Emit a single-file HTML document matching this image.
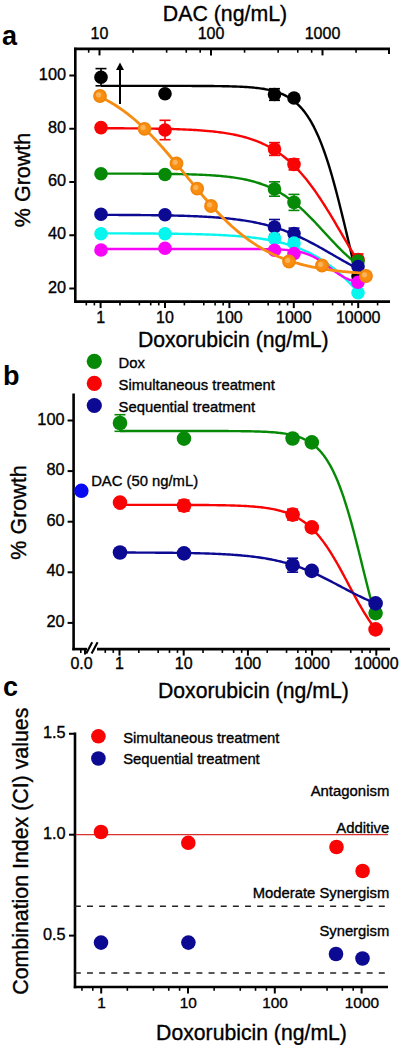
<!DOCTYPE html>
<html><head><meta charset="utf-8"><style>
html,body{margin:0;padding:0;background:#fff;}
svg{display:block;}
text{font-family:"Liberation Sans", sans-serif;fill:#000;stroke:#000;stroke-width:0.35px;}
</style></head><body>
<svg width="400" height="1045" viewBox="0 0 400 1045">
<rect width="400" height="1045" fill="#fff"/>
<line x1="75.30" y1="47.70" x2="75.30" y2="302.80" stroke="#000" stroke-width="2.6" />
<line x1="74.10" y1="48.90" x2="390.00" y2="48.90" stroke="#000" stroke-width="2.6" />
<line x1="74.10" y1="301.60" x2="390.00" y2="301.60" stroke="#000" stroke-width="2.6" />
<line x1="389.00" y1="48.90" x2="389.00" y2="53.90" stroke="#000" stroke-width="2" />
<line x1="69.30" y1="288.50" x2="75.30" y2="288.50" stroke="#000" stroke-width="2" />
<text x="66.00" y="292.60" font-size="16.3" text-anchor="end" font-weight="normal" >20</text>
<line x1="69.30" y1="235.25" x2="75.30" y2="235.25" stroke="#000" stroke-width="2" />
<text x="66.00" y="239.35" font-size="16.3" text-anchor="end" font-weight="normal" >40</text>
<line x1="69.30" y1="182.00" x2="75.30" y2="182.00" stroke="#000" stroke-width="2" />
<text x="66.00" y="186.10" font-size="16.3" text-anchor="end" font-weight="normal" >60</text>
<line x1="69.30" y1="128.75" x2="75.30" y2="128.75" stroke="#000" stroke-width="2" />
<text x="66.00" y="132.85" font-size="16.3" text-anchor="end" font-weight="normal" >80</text>
<line x1="69.30" y1="75.50" x2="75.30" y2="75.50" stroke="#000" stroke-width="2" />
<text x="66.00" y="79.60" font-size="16.3" text-anchor="end" font-weight="normal" >100</text>
<line x1="86.31" y1="301.60" x2="86.31" y2="305.40" stroke="#000" stroke-width="1.6" />
<line x1="94.36" y1="301.60" x2="94.36" y2="305.40" stroke="#000" stroke-width="1.6" />
<line x1="100.60" y1="301.60" x2="100.60" y2="308.10" stroke="#000" stroke-width="2" />
<line x1="119.99" y1="301.60" x2="119.99" y2="305.40" stroke="#000" stroke-width="1.6" />
<line x1="139.37" y1="301.60" x2="139.37" y2="305.40" stroke="#000" stroke-width="1.6" />
<line x1="150.71" y1="301.60" x2="150.71" y2="305.40" stroke="#000" stroke-width="1.6" />
<line x1="158.76" y1="301.60" x2="158.76" y2="305.40" stroke="#000" stroke-width="1.6" />
<line x1="165.00" y1="301.60" x2="165.00" y2="308.10" stroke="#000" stroke-width="2" />
<line x1="184.39" y1="301.60" x2="184.39" y2="305.40" stroke="#000" stroke-width="1.6" />
<line x1="203.77" y1="301.60" x2="203.77" y2="305.40" stroke="#000" stroke-width="1.6" />
<line x1="215.11" y1="301.60" x2="215.11" y2="305.40" stroke="#000" stroke-width="1.6" />
<line x1="223.16" y1="301.60" x2="223.16" y2="305.40" stroke="#000" stroke-width="1.6" />
<line x1="229.40" y1="301.60" x2="229.40" y2="308.10" stroke="#000" stroke-width="2" />
<line x1="248.79" y1="301.60" x2="248.79" y2="305.40" stroke="#000" stroke-width="1.6" />
<line x1="268.17" y1="301.60" x2="268.17" y2="305.40" stroke="#000" stroke-width="1.6" />
<line x1="279.51" y1="301.60" x2="279.51" y2="305.40" stroke="#000" stroke-width="1.6" />
<line x1="287.56" y1="301.60" x2="287.56" y2="305.40" stroke="#000" stroke-width="1.6" />
<line x1="293.80" y1="301.60" x2="293.80" y2="308.10" stroke="#000" stroke-width="2" />
<line x1="313.19" y1="301.60" x2="313.19" y2="305.40" stroke="#000" stroke-width="1.6" />
<line x1="332.57" y1="301.60" x2="332.57" y2="305.40" stroke="#000" stroke-width="1.6" />
<line x1="343.91" y1="301.60" x2="343.91" y2="305.40" stroke="#000" stroke-width="1.6" />
<line x1="351.96" y1="301.60" x2="351.96" y2="305.40" stroke="#000" stroke-width="1.6" />
<line x1="358.20" y1="301.60" x2="358.20" y2="308.10" stroke="#000" stroke-width="2" />
<line x1="377.59" y1="301.60" x2="377.59" y2="305.40" stroke="#000" stroke-width="1.6" />
<text x="100.60" y="322.80" font-size="16" text-anchor="middle" font-weight="normal" >1</text>
<text x="165.00" y="322.80" font-size="16" text-anchor="middle" font-weight="normal" >10</text>
<text x="229.40" y="322.80" font-size="16" text-anchor="middle" font-weight="normal" >100</text>
<text x="293.80" y="322.80" font-size="16" text-anchor="middle" font-weight="normal" >1000</text>
<text x="358.20" y="322.80" font-size="16" text-anchor="middle" font-weight="normal" >10000</text>
<line x1="88.69" y1="48.90" x2="88.69" y2="52.70" stroke="#000" stroke-width="1.6" />
<line x1="99.50" y1="48.90" x2="99.50" y2="55.40" stroke="#000" stroke-width="2" />
<line x1="133.06" y1="48.90" x2="133.06" y2="52.70" stroke="#000" stroke-width="1.6" />
<line x1="166.63" y1="48.90" x2="166.63" y2="52.70" stroke="#000" stroke-width="1.6" />
<line x1="186.26" y1="48.90" x2="186.26" y2="52.70" stroke="#000" stroke-width="1.6" />
<line x1="200.19" y1="48.90" x2="200.19" y2="52.70" stroke="#000" stroke-width="1.6" />
<line x1="211.00" y1="48.90" x2="211.00" y2="55.40" stroke="#000" stroke-width="2" />
<line x1="244.56" y1="48.90" x2="244.56" y2="52.70" stroke="#000" stroke-width="1.6" />
<line x1="278.13" y1="48.90" x2="278.13" y2="52.70" stroke="#000" stroke-width="1.6" />
<line x1="297.76" y1="48.90" x2="297.76" y2="52.70" stroke="#000" stroke-width="1.6" />
<line x1="311.69" y1="48.90" x2="311.69" y2="52.70" stroke="#000" stroke-width="1.6" />
<line x1="322.50" y1="48.90" x2="322.50" y2="55.40" stroke="#000" stroke-width="2" />
<line x1="356.06" y1="48.90" x2="356.06" y2="52.70" stroke="#000" stroke-width="1.6" />
<text x="99.50" y="38.80" font-size="16" text-anchor="middle" font-weight="normal" >10</text>
<text x="211.00" y="38.80" font-size="16" text-anchor="middle" font-weight="normal" >100</text>
<text x="322.50" y="38.80" font-size="16" text-anchor="middle" font-weight="normal" >1000</text>
<text x="225.00" y="21.40" font-size="21.3" text-anchor="middle" font-weight="normal" >DAC (ng/mL)</text>
<text x="233.30" y="346.90" font-size="21.2" text-anchor="middle" font-weight="normal" >Doxorubicin (ng/mL)</text>
<text x="0.00" y="0.00" font-size="21.5" text-anchor="middle" font-weight="normal" transform="translate(30.3,180) rotate(-90)">% Growth</text>
<text x="2.00" y="45.40" font-size="27" text-anchor="start" font-weight="bold"  style="stroke:none">a</text>
<path d="M101.00,85.87 L102.50,85.87 L104.00,85.87 L105.50,85.87 L107.00,85.87 L108.50,85.87 L110.00,85.87 L111.50,85.87 L113.00,85.87 L114.50,85.87 L116.00,85.87 L117.50,85.87 L119.00,85.87 L120.50,85.87 L122.00,85.87 L123.50,85.87 L125.00,85.87 L126.50,85.87 L128.00,85.87 L129.50,85.87 L131.00,85.87 L132.50,85.87 L134.00,85.87 L135.50,85.87 L137.00,85.87 L138.50,85.87 L140.00,85.87 L141.50,85.87 L143.00,85.87 L144.50,85.87 L146.00,85.87 L147.50,85.87 L149.00,85.87 L150.50,85.87 L152.00,85.87 L153.50,85.87 L155.00,85.87 L156.50,85.87 L158.00,85.88 L159.50,85.88 L161.00,85.88 L162.50,85.88 L164.00,85.88 L165.50,85.88 L167.00,85.88 L168.50,85.88 L170.00,85.88 L171.50,85.89 L173.00,85.89 L174.50,85.89 L176.00,85.89 L177.50,85.89 L179.00,85.90 L180.50,85.90 L182.00,85.90 L183.50,85.90 L185.00,85.91 L186.50,85.91 L188.00,85.92 L189.50,85.92 L191.00,85.92 L192.50,85.93 L194.00,85.93 L195.50,85.94 L197.00,85.95 L198.50,85.95 L200.00,85.96 L201.50,85.97 L203.00,85.98 L204.50,85.99 L206.00,86.00 L207.50,86.01 L209.00,86.02 L210.50,86.04 L212.00,86.05 L213.50,86.07 L215.00,86.08 L216.50,86.10 L218.00,86.12 L219.50,86.14 L221.00,86.17 L222.50,86.19 L224.00,86.22 L225.50,86.25 L227.00,86.28 L228.50,86.32 L230.00,86.36 L231.50,86.40 L233.00,86.44 L234.50,86.49 L236.00,86.54 L237.50,86.60 L239.00,86.66 L240.50,86.73 L242.00,86.81 L243.50,86.89 L245.00,86.97 L246.50,87.07 L248.00,87.17 L249.50,87.28 L251.00,87.40 L252.50,87.53 L254.00,87.67 L255.50,87.82 L257.00,87.99 L258.50,88.17 L260.00,88.36 L261.50,88.57 L263.00,88.80 L264.50,89.04 L266.00,89.31 L267.50,89.60 L269.00,89.92 L270.50,90.26 L272.00,90.63 L273.50,91.02 L275.00,91.45 L276.50,91.92 L278.00,92.43 L279.50,92.97 L281.00,93.56 L282.50,94.20 L284.00,94.89 L285.50,95.63 L287.00,96.44 L288.50,97.30 L290.00,98.24 L291.50,99.25 L293.00,100.33 L294.50,101.50 L296.00,102.76 L297.50,104.12 L299.00,105.57 L300.50,107.14 L302.00,108.81 L303.50,110.61 L305.00,112.54 L306.50,114.60 L308.00,116.80 L309.50,119.16 L311.00,121.66 L312.50,124.33 L314.00,127.17 L315.50,130.19 L317.00,133.39 L318.50,136.77 L320.00,140.34 L321.50,144.11 L323.00,148.08 L324.50,152.24 L326.00,156.61 L327.50,161.17 L329.00,165.93 L330.50,170.88 L332.00,176.01 L333.50,181.33 L335.00,186.81 L336.50,192.46 L338.00,198.25 L339.50,204.17 L341.00,210.21 L342.50,216.34 L344.00,222.56 L345.50,228.84 L347.00,235.15 L348.50,241.49 L350.00,247.83 L351.50,254.14 L353.00,260.41 L354.50,266.61 L356.00,272.74 L357.50,278.76 L358.00,280.74" fill="none" stroke="#000" stroke-width="2.4" stroke-linejoin="round"/>
<path d="M101.00,128.21 L102.50,128.22 L104.00,128.22 L105.50,128.23 L107.00,128.23 L108.50,128.24 L110.00,128.25 L111.50,128.25 L113.00,128.26 L114.50,128.27 L116.00,128.27 L117.50,128.28 L119.00,128.29 L120.50,128.30 L122.00,128.31 L123.50,128.32 L125.00,128.33 L126.50,128.34 L128.00,128.35 L129.50,128.36 L131.00,128.37 L132.50,128.38 L134.00,128.39 L135.50,128.41 L137.00,128.42 L138.50,128.44 L140.00,128.45 L141.50,128.47 L143.00,128.49 L144.50,128.50 L146.00,128.52 L147.50,128.54 L149.00,128.56 L150.50,128.59 L152.00,128.61 L153.50,128.63 L155.00,128.66 L156.50,128.68 L158.00,128.71 L159.50,128.74 L161.00,128.77 L162.50,128.80 L164.00,128.84 L165.50,128.87 L167.00,128.91 L168.50,128.95 L170.00,128.99 L171.50,129.03 L173.00,129.07 L174.50,129.12 L176.00,129.17 L177.50,129.22 L179.00,129.28 L180.50,129.33 L182.00,129.39 L183.50,129.45 L185.00,129.52 L186.50,129.59 L188.00,129.66 L189.50,129.73 L191.00,129.81 L192.50,129.89 L194.00,129.98 L195.50,130.07 L197.00,130.16 L198.50,130.26 L200.00,130.37 L201.50,130.48 L203.00,130.59 L204.50,130.71 L206.00,130.83 L207.50,130.97 L209.00,131.10 L210.50,131.25 L212.00,131.40 L213.50,131.56 L215.00,131.72 L216.50,131.90 L218.00,132.08 L219.50,132.27 L221.00,132.47 L222.50,132.67 L224.00,132.89 L225.50,133.12 L227.00,133.36 L228.50,133.61 L230.00,133.87 L231.50,134.15 L233.00,134.43 L234.50,134.73 L236.00,135.04 L237.50,135.37 L239.00,135.72 L240.50,136.07 L242.00,136.45 L243.50,136.84 L245.00,137.25 L246.50,137.67 L248.00,138.12 L249.50,138.59 L251.00,139.07 L252.50,139.58 L254.00,140.11 L255.50,140.66 L257.00,141.24 L258.50,141.84 L260.00,142.47 L261.50,143.12 L263.00,143.80 L264.50,144.51 L266.00,145.25 L267.50,146.02 L269.00,146.82 L270.50,147.66 L272.00,148.52 L273.50,149.42 L275.00,150.36 L276.50,151.33 L278.00,152.34 L279.50,153.38 L281.00,154.47 L282.50,155.59 L284.00,156.76 L285.50,157.97 L287.00,159.22 L288.50,160.51 L290.00,161.85 L291.50,163.23 L293.00,164.66 L294.50,166.14 L296.00,167.66 L297.50,169.22 L299.00,170.84 L300.50,172.50 L302.00,174.21 L303.50,175.96 L305.00,177.76 L306.50,179.62 L308.00,181.51 L309.50,183.46 L311.00,185.44 L312.50,187.48 L314.00,189.56 L315.50,191.68 L317.00,193.84 L318.50,196.05 L320.00,198.29 L321.50,200.57 L323.00,202.89 L324.50,205.24 L326.00,207.63 L327.50,210.04 L329.00,212.48 L330.50,214.95 L332.00,217.44 L333.50,219.95 L335.00,222.48 L336.50,225.03 L338.00,227.58 L339.50,230.15 L341.00,232.72 L342.50,235.30 L344.00,237.88 L345.50,240.45 L347.00,243.02 L348.50,245.59 L350.00,248.14 L351.50,250.68 L353.00,253.20 L354.50,255.70 L356.00,258.18 L357.50,260.64 L358.00,261.45" fill="none" stroke="#f80404" stroke-width="2.4" stroke-linejoin="round"/>
<path d="M101.00,173.57 L102.50,173.57 L104.00,173.57 L105.50,173.57 L107.00,173.58 L108.50,173.58 L110.00,173.58 L111.50,173.58 L113.00,173.59 L114.50,173.59 L116.00,173.59 L117.50,173.59 L119.00,173.60 L120.50,173.60 L122.00,173.60 L123.50,173.61 L125.00,173.61 L126.50,173.62 L128.00,173.62 L129.50,173.63 L131.00,173.63 L132.50,173.64 L134.00,173.64 L135.50,173.65 L137.00,173.65 L138.50,173.66 L140.00,173.67 L141.50,173.67 L143.00,173.68 L144.50,173.69 L146.00,173.70 L147.50,173.71 L149.00,173.72 L150.50,173.73 L152.00,173.74 L153.50,173.75 L155.00,173.76 L156.50,173.78 L158.00,173.79 L159.50,173.80 L161.00,173.82 L162.50,173.83 L164.00,173.85 L165.50,173.87 L167.00,173.89 L168.50,173.91 L170.00,173.93 L171.50,173.95 L173.00,173.97 L174.50,174.00 L176.00,174.02 L177.50,174.05 L179.00,174.08 L180.50,174.11 L182.00,174.14 L183.50,174.18 L185.00,174.21 L186.50,174.25 L188.00,174.29 L189.50,174.34 L191.00,174.38 L192.50,174.43 L194.00,174.48 L195.50,174.53 L197.00,174.59 L198.50,174.65 L200.00,174.71 L201.50,174.78 L203.00,174.85 L204.50,174.92 L206.00,175.00 L207.50,175.08 L209.00,175.17 L210.50,175.26 L212.00,175.35 L213.50,175.46 L215.00,175.56 L216.50,175.68 L218.00,175.80 L219.50,175.92 L221.00,176.06 L222.50,176.20 L224.00,176.34 L225.50,176.50 L227.00,176.66 L228.50,176.84 L230.00,177.02 L231.50,177.21 L233.00,177.41 L234.50,177.63 L236.00,177.85 L237.50,178.09 L239.00,178.34 L240.50,178.60 L242.00,178.88 L243.50,179.17 L245.00,179.47 L246.50,179.79 L248.00,180.13 L249.50,180.48 L251.00,180.85 L252.50,181.24 L254.00,181.65 L255.50,182.08 L257.00,182.53 L258.50,183.00 L260.00,183.50 L261.50,184.01 L263.00,184.56 L264.50,185.12 L266.00,185.71 L267.50,186.33 L269.00,186.98 L270.50,187.65 L272.00,188.36 L273.50,189.09 L275.00,189.86 L276.50,190.65 L278.00,191.48 L279.50,192.34 L281.00,193.23 L282.50,194.16 L284.00,195.12 L285.50,196.11 L287.00,197.14 L288.50,198.20 L290.00,199.30 L291.50,200.44 L293.00,201.60 L294.50,202.81 L296.00,204.04 L297.50,205.31 L299.00,206.62 L300.50,207.95 L302.00,209.32 L303.50,210.71 L305.00,212.14 L306.50,213.59 L308.00,215.06 L309.50,216.57 L311.00,218.09 L312.50,219.63 L314.00,221.20 L315.50,222.78 L317.00,224.37 L318.50,225.98 L320.00,227.59 L321.50,229.22 L323.00,230.84 L324.50,232.47 L326.00,234.10 L327.50,235.73 L329.00,237.35 L330.50,238.97 L332.00,240.57 L333.50,242.16 L335.00,243.74 L336.50,245.30 L338.00,246.84 L339.50,248.36 L341.00,249.86 L342.50,251.33 L344.00,252.78 L345.50,254.19 L347.00,255.58 L348.50,256.94 L350.00,258.27 L351.50,259.57 L353.00,260.83 L354.50,262.06 L356.00,263.26 L357.50,264.42 L358.00,264.80" fill="none" stroke="#068906" stroke-width="2.4" stroke-linejoin="round"/>
<path d="M101.00,214.86 L102.50,214.87 L104.00,214.87 L105.50,214.87 L107.00,214.88 L108.50,214.88 L110.00,214.89 L111.50,214.90 L113.00,214.90 L114.50,214.91 L116.00,214.91 L117.50,214.92 L119.00,214.93 L120.50,214.94 L122.00,214.94 L123.50,214.95 L125.00,214.96 L126.50,214.97 L128.00,214.98 L129.50,214.99 L131.00,215.00 L132.50,215.01 L134.00,215.02 L135.50,215.03 L137.00,215.04 L138.50,215.05 L140.00,215.07 L141.50,215.08 L143.00,215.09 L144.50,215.11 L146.00,215.12 L147.50,215.14 L149.00,215.16 L150.50,215.17 L152.00,215.19 L153.50,215.21 L155.00,215.23 L156.50,215.25 L158.00,215.27 L159.50,215.30 L161.00,215.32 L162.50,215.34 L164.00,215.37 L165.50,215.40 L167.00,215.42 L168.50,215.45 L170.00,215.48 L171.50,215.52 L173.00,215.55 L174.50,215.58 L176.00,215.62 L177.50,215.66 L179.00,215.70 L180.50,215.74 L182.00,215.78 L183.50,215.82 L185.00,215.87 L186.50,215.92 L188.00,215.97 L189.50,216.02 L191.00,216.08 L192.50,216.13 L194.00,216.19 L195.50,216.25 L197.00,216.32 L198.50,216.39 L200.00,216.46 L201.50,216.53 L203.00,216.61 L204.50,216.69 L206.00,216.77 L207.50,216.86 L209.00,216.95 L210.50,217.04 L212.00,217.14 L213.50,217.24 L215.00,217.35 L216.50,217.46 L218.00,217.57 L219.50,217.69 L221.00,217.82 L222.50,217.95 L224.00,218.08 L225.50,218.22 L227.00,218.37 L228.50,218.52 L230.00,218.68 L231.50,218.84 L233.00,219.01 L234.50,219.19 L236.00,219.38 L237.50,219.57 L239.00,219.77 L240.50,219.97 L242.00,220.19 L243.50,220.41 L245.00,220.64 L246.50,220.88 L248.00,221.13 L249.50,221.39 L251.00,221.66 L252.50,221.94 L254.00,222.22 L255.50,222.52 L257.00,222.83 L258.50,223.15 L260.00,223.48 L261.50,223.82 L263.00,224.18 L264.50,224.54 L266.00,224.92 L267.50,225.31 L269.00,225.71 L270.50,226.13 L272.00,226.56 L273.50,227.00 L275.00,227.46 L276.50,227.93 L278.00,228.41 L279.50,228.91 L281.00,229.42 L282.50,229.94 L284.00,230.48 L285.50,231.04 L287.00,231.61 L288.50,232.19 L290.00,232.79 L291.50,233.40 L293.00,234.02 L294.50,234.66 L296.00,235.32 L297.50,235.99 L299.00,236.67 L300.50,237.37 L302.00,238.07 L303.50,238.80 L305.00,239.53 L306.50,240.28 L308.00,241.04 L309.50,241.81 L311.00,242.59 L312.50,243.38 L314.00,244.18 L315.50,244.99 L317.00,245.81 L318.50,246.64 L320.00,247.47 L321.50,248.31 L323.00,249.16 L324.50,250.01 L326.00,250.87 L327.50,251.73 L329.00,252.59 L330.50,253.45 L332.00,254.32 L333.50,255.19 L335.00,256.05 L336.50,256.92 L338.00,257.78 L339.50,258.64 L341.00,259.50 L342.50,260.35 L344.00,261.20 L345.50,262.04 L347.00,262.88 L348.50,263.71 L350.00,264.53 L351.50,265.34 L353.00,266.14 L354.50,266.93 L356.00,267.72 L357.50,268.49 L358.00,268.74" fill="none" stroke="#0c0a92" stroke-width="2.4" stroke-linejoin="round"/>
<path d="M101.00,233.35 L102.50,233.35 L104.00,233.35 L105.50,233.36 L107.00,233.36 L108.50,233.36 L110.00,233.36 L111.50,233.37 L113.00,233.37 L114.50,233.38 L116.00,233.38 L117.50,233.38 L119.00,233.39 L120.50,233.39 L122.00,233.40 L123.50,233.40 L125.00,233.41 L126.50,233.41 L128.00,233.42 L129.50,233.42 L131.00,233.43 L132.50,233.43 L134.00,233.44 L135.50,233.45 L137.00,233.45 L138.50,233.46 L140.00,233.47 L141.50,233.48 L143.00,233.48 L144.50,233.49 L146.00,233.50 L147.50,233.51 L149.00,233.52 L150.50,233.53 L152.00,233.54 L153.50,233.55 L155.00,233.56 L156.50,233.58 L158.00,233.59 L159.50,233.60 L161.00,233.62 L162.50,233.63 L164.00,233.64 L165.50,233.66 L167.00,233.68 L168.50,233.69 L170.00,233.71 L171.50,233.73 L173.00,233.75 L174.50,233.77 L176.00,233.79 L177.50,233.81 L179.00,233.83 L180.50,233.86 L182.00,233.88 L183.50,233.91 L185.00,233.93 L186.50,233.96 L188.00,233.99 L189.50,234.02 L191.00,234.05 L192.50,234.09 L194.00,234.12 L195.50,234.16 L197.00,234.19 L198.50,234.23 L200.00,234.27 L201.50,234.32 L203.00,234.36 L204.50,234.41 L206.00,234.45 L207.50,234.50 L209.00,234.56 L210.50,234.61 L212.00,234.67 L213.50,234.73 L215.00,234.79 L216.50,234.85 L218.00,234.92 L219.50,234.99 L221.00,235.07 L222.50,235.14 L224.00,235.22 L225.50,235.30 L227.00,235.39 L228.50,235.48 L230.00,235.58 L231.50,235.67 L233.00,235.78 L234.50,235.88 L236.00,235.99 L237.50,236.11 L239.00,236.23 L240.50,236.35 L242.00,236.49 L243.50,236.62 L245.00,236.76 L246.50,236.91 L248.00,237.06 L249.50,237.23 L251.00,237.39 L252.50,237.57 L254.00,237.75 L255.50,237.94 L257.00,238.13 L258.50,238.34 L260.00,238.55 L261.50,238.77 L263.00,239.00 L264.50,239.24 L266.00,239.49 L267.50,239.75 L269.00,240.02 L270.50,240.30 L272.00,240.59 L273.50,240.90 L275.00,241.21 L276.50,241.54 L278.00,241.88 L279.50,242.24 L281.00,242.60 L282.50,242.99 L284.00,243.38 L285.50,243.80 L287.00,244.23 L288.50,244.67 L290.00,245.13 L291.50,245.61 L293.00,246.11 L294.50,246.62 L296.00,247.16 L297.50,247.71 L299.00,248.28 L300.50,248.88 L302.00,249.49 L303.50,250.13 L305.00,250.79 L306.50,251.48 L308.00,252.18 L309.50,252.91 L311.00,253.67 L312.50,254.45 L314.00,255.26 L315.50,256.09 L317.00,256.95 L318.50,257.84 L320.00,258.75 L321.50,259.69 L323.00,260.67 L324.50,261.67 L326.00,262.70 L327.50,263.76 L329.00,264.85 L330.50,265.97 L332.00,267.12 L333.50,268.30 L335.00,269.52 L336.50,270.76 L338.00,272.04 L339.50,273.35 L341.00,274.69 L342.50,276.06 L344.00,277.46 L345.50,278.89 L347.00,280.35 L348.50,281.85 L350.00,283.37 L351.50,284.92 L353.00,286.50 L354.50,288.11 L356.00,289.74 L357.50,291.40 L358.00,291.96" fill="none" stroke="#04f6ee" stroke-width="2.4" stroke-linejoin="round"/>
<path d="M101.00,248.93 L102.50,248.93 L104.00,248.93 L105.50,248.93 L107.00,248.93 L108.50,248.93 L110.00,248.93 L111.50,248.93 L113.00,248.93 L114.50,248.93 L116.00,248.93 L117.50,248.93 L119.00,248.93 L120.50,248.93 L122.00,248.93 L123.50,248.93 L125.00,248.93 L126.50,248.93 L128.00,248.93 L129.50,248.93 L131.00,248.93 L132.50,248.93 L134.00,248.93 L135.50,248.93 L137.00,248.93 L138.50,248.93 L140.00,248.93 L141.50,248.93 L143.00,248.93 L144.50,248.93 L146.00,248.93 L147.50,248.93 L149.00,248.93 L150.50,248.93 L152.00,248.93 L153.50,248.93 L155.00,248.93 L156.50,248.93 L158.00,248.93 L159.50,248.93 L161.00,248.93 L162.50,248.93 L164.00,248.93 L165.50,248.93 L167.00,248.93 L168.50,248.93 L170.00,248.93 L171.50,248.93 L173.00,248.93 L174.50,248.93 L176.00,248.93 L177.50,248.93 L179.00,248.93 L180.50,248.93 L182.00,248.93 L183.50,248.93 L185.00,248.93 L186.50,248.93 L188.00,248.93 L189.50,248.93 L191.00,248.93 L192.50,248.93 L194.00,248.93 L195.50,248.93 L197.00,248.93 L198.50,248.93 L200.00,248.93 L201.50,248.93 L203.00,248.93 L204.50,248.93 L206.00,248.93 L207.50,248.93 L209.00,248.93 L210.50,248.93 L212.00,248.93 L213.50,248.93 L215.00,248.93 L216.50,248.93 L218.00,248.93 L219.50,248.94 L221.00,248.94 L222.50,248.94 L224.00,248.94 L225.50,248.94 L227.00,248.94 L228.50,248.94 L230.00,248.94 L231.50,248.94 L233.00,248.94 L234.50,248.95 L236.00,248.95 L237.50,248.95 L239.00,248.95 L240.50,248.95 L242.00,248.96 L243.50,248.96 L245.00,248.96 L246.50,248.97 L248.00,248.97 L249.50,248.98 L251.00,248.99 L252.50,248.99 L254.00,249.00 L255.50,249.01 L257.00,249.02 L258.50,249.03 L260.00,249.05 L261.50,249.06 L263.00,249.08 L264.50,249.10 L266.00,249.12 L267.50,249.15 L269.00,249.18 L270.50,249.21 L272.00,249.25 L273.50,249.29 L275.00,249.33 L276.50,249.39 L278.00,249.45 L279.50,249.51 L281.00,249.59 L282.50,249.67 L284.00,249.77 L285.50,249.88 L287.00,250.00 L288.50,250.14 L290.00,250.29 L291.50,250.47 L293.00,250.66 L294.50,250.88 L296.00,251.12 L297.50,251.39 L299.00,251.69 L300.50,252.03 L302.00,252.40 L303.50,252.81 L305.00,253.27 L306.50,253.77 L308.00,254.31 L309.50,254.91 L311.00,255.56 L312.50,256.26 L314.00,257.02 L315.50,257.83 L317.00,258.70 L318.50,259.62 L320.00,260.58 L321.50,261.59 L323.00,262.64 L324.50,263.72 L326.00,264.83 L327.50,265.96 L329.00,267.09 L330.50,268.23 L332.00,269.35 L333.50,270.46 L335.00,271.55 L336.50,272.60 L338.00,273.62 L339.50,274.59 L341.00,275.51 L342.50,276.38 L344.00,277.20 L345.50,277.97 L347.00,278.68 L348.50,279.33 L350.00,279.94 L351.50,280.49 L353.00,280.99 L354.50,281.45 L356.00,281.87 L357.50,282.25 L358.00,282.36" fill="none" stroke="#f804f8" stroke-width="2.4" stroke-linejoin="round"/>
<line x1="101.00" y1="68.60" x2="101.00" y2="85.80" stroke="#000" stroke-width="1.6" />
<line x1="95.50" y1="68.60" x2="106.50" y2="68.60" stroke="#000" stroke-width="1.6" />
<line x1="95.50" y1="85.80" x2="106.50" y2="85.80" stroke="#000" stroke-width="1.6" />
<line x1="274.50" y1="88.70" x2="274.50" y2="100.30" stroke="#000" stroke-width="1.6" />
<line x1="269.00" y1="88.70" x2="280.00" y2="88.70" stroke="#000" stroke-width="1.6" />
<line x1="269.00" y1="100.30" x2="280.00" y2="100.30" stroke="#000" stroke-width="1.6" />
<line x1="165.00" y1="120.30" x2="165.00" y2="139.70" stroke="#f80404" stroke-width="1.6" />
<line x1="159.50" y1="120.30" x2="170.50" y2="120.30" stroke="#f80404" stroke-width="1.6" />
<line x1="159.50" y1="139.70" x2="170.50" y2="139.70" stroke="#f80404" stroke-width="1.6" />
<line x1="274.50" y1="142.60" x2="274.50" y2="155.40" stroke="#f80404" stroke-width="1.6" />
<line x1="269.00" y1="142.60" x2="280.00" y2="142.60" stroke="#f80404" stroke-width="1.6" />
<line x1="269.00" y1="155.40" x2="280.00" y2="155.40" stroke="#f80404" stroke-width="1.6" />
<line x1="294.00" y1="158.90" x2="294.00" y2="169.90" stroke="#f80404" stroke-width="1.6" />
<line x1="288.50" y1="158.90" x2="299.50" y2="158.90" stroke="#f80404" stroke-width="1.6" />
<line x1="288.50" y1="169.90" x2="299.50" y2="169.90" stroke="#f80404" stroke-width="1.6" />
<line x1="358.00" y1="254.00" x2="358.00" y2="265.00" stroke="#f80404" stroke-width="1.6" />
<line x1="352.50" y1="254.00" x2="363.50" y2="254.00" stroke="#f80404" stroke-width="1.6" />
<line x1="352.50" y1="265.00" x2="363.50" y2="265.00" stroke="#f80404" stroke-width="1.6" />
<line x1="274.50" y1="181.80" x2="274.50" y2="196.20" stroke="#068906" stroke-width="1.6" />
<line x1="269.00" y1="181.80" x2="280.00" y2="181.80" stroke="#068906" stroke-width="1.6" />
<line x1="269.00" y1="196.20" x2="280.00" y2="196.20" stroke="#068906" stroke-width="1.6" />
<line x1="294.00" y1="194.40" x2="294.00" y2="210.40" stroke="#068906" stroke-width="1.6" />
<line x1="288.50" y1="194.40" x2="299.50" y2="194.40" stroke="#068906" stroke-width="1.6" />
<line x1="288.50" y1="210.40" x2="299.50" y2="210.40" stroke="#068906" stroke-width="1.6" />
<line x1="274.50" y1="219.50" x2="274.50" y2="234.50" stroke="#0c0a92" stroke-width="1.6" />
<line x1="269.00" y1="219.50" x2="280.00" y2="219.50" stroke="#0c0a92" stroke-width="1.6" />
<line x1="269.00" y1="234.50" x2="280.00" y2="234.50" stroke="#0c0a92" stroke-width="1.6" />
<line x1="294.00" y1="228.10" x2="294.00" y2="239.10" stroke="#0c0a92" stroke-width="1.6" />
<line x1="288.50" y1="228.10" x2="299.50" y2="228.10" stroke="#0c0a92" stroke-width="1.6" />
<line x1="288.50" y1="239.10" x2="299.50" y2="239.10" stroke="#0c0a92" stroke-width="1.6" />
<circle cx="101.00" cy="77.20" r="6.8" fill="#000"/>
<circle cx="165.00" cy="93.80" r="6.8" fill="#000"/>
<circle cx="274.50" cy="94.50" r="6.8" fill="#000"/>
<circle cx="294.00" cy="98.00" r="6.8" fill="#000"/>
<circle cx="358.00" cy="276.00" r="6.8" fill="#000"/>
<circle cx="101.00" cy="127.60" r="6.8" fill="#f80404"/>
<circle cx="165.00" cy="130.00" r="6.8" fill="#f80404"/>
<circle cx="274.50" cy="149.00" r="6.8" fill="#f80404"/>
<circle cx="294.00" cy="164.40" r="6.8" fill="#f80404"/>
<circle cx="358.00" cy="259.50" r="6.8" fill="#f80404"/>
<circle cx="101.00" cy="173.70" r="6.8" fill="#068906"/>
<circle cx="165.00" cy="174.50" r="6.8" fill="#068906"/>
<circle cx="274.50" cy="189.00" r="6.8" fill="#068906"/>
<circle cx="294.00" cy="202.40" r="6.8" fill="#068906"/>
<circle cx="358.00" cy="261.00" r="6.8" fill="#068906"/>
<circle cx="101.00" cy="214.30" r="6.8" fill="#0c0a92"/>
<circle cx="165.00" cy="214.80" r="6.8" fill="#0c0a92"/>
<circle cx="274.50" cy="227.00" r="6.8" fill="#0c0a92"/>
<circle cx="294.00" cy="233.60" r="6.8" fill="#0c0a92"/>
<circle cx="358.00" cy="266.50" r="6.8" fill="#0c0a92"/>
<circle cx="101.00" cy="233.80" r="6.8" fill="#04f6ee"/>
<circle cx="165.00" cy="233.80" r="6.8" fill="#04f6ee"/>
<circle cx="274.50" cy="238.50" r="6.8" fill="#04f6ee"/>
<circle cx="294.00" cy="243.00" r="6.8" fill="#04f6ee"/>
<circle cx="358.00" cy="292.80" r="6.8" fill="#04f6ee"/>
<circle cx="101.00" cy="250.00" r="6.8" fill="#f804f8"/>
<circle cx="165.00" cy="248.30" r="6.8" fill="#f804f8"/>
<circle cx="274.50" cy="250.30" r="6.8" fill="#f804f8"/>
<circle cx="294.00" cy="253.50" r="6.8" fill="#f804f8"/>
<circle cx="358.00" cy="282.30" r="6.8" fill="#f804f8"/>
<path d="M100.00,96.71 L101.50,97.45 L103.00,98.21 L104.50,98.98 L106.00,99.78 L107.50,100.61 L109.00,101.45 L110.50,102.32 L112.00,103.21 L113.50,104.12 L115.00,105.06 L116.50,106.02 L118.00,107.00 L119.50,108.01 L121.00,109.05 L122.50,110.11 L124.00,111.19 L125.50,112.30 L127.00,113.44 L128.50,114.60 L130.00,115.78 L131.50,117.00 L133.00,118.23 L134.50,119.50 L136.00,120.79 L137.50,122.10 L139.00,123.44 L140.50,124.81 L142.00,126.20 L143.50,127.61 L145.00,129.05 L146.50,130.51 L148.00,132.00 L149.50,133.51 L151.00,135.04 L152.50,136.60 L154.00,138.17 L155.50,139.77 L157.00,141.39 L158.50,143.03 L160.00,144.69 L161.50,146.36 L163.00,148.05 L164.50,149.76 L166.00,151.49 L167.50,153.23 L169.00,154.98 L170.50,156.75 L172.00,158.53 L173.50,160.32 L175.00,162.12 L176.50,163.92 L178.00,165.74 L179.50,167.56 L181.00,169.38 L182.50,171.21 L184.00,173.04 L185.50,174.88 L187.00,176.71 L188.50,178.54 L190.00,180.37 L191.50,182.20 L193.00,184.02 L194.50,185.83 L196.00,187.64 L197.50,189.44 L199.00,191.23 L200.50,193.01 L202.00,194.78 L203.50,196.54 L205.00,198.28 L206.50,200.01 L208.00,201.72 L209.50,203.42 L211.00,205.10 L212.50,206.76 L214.00,208.40 L215.50,210.02 L217.00,211.63 L218.50,213.21 L220.00,214.77 L221.50,216.30 L223.00,217.82 L224.50,219.31 L226.00,220.78 L227.50,222.22 L229.00,223.64 L230.50,225.04 L232.00,226.41 L233.50,227.75 L235.00,229.07 L236.50,230.37 L238.00,231.64 L239.50,232.88 L241.00,234.10 L242.50,235.29 L244.00,236.45 L245.50,237.59 L247.00,238.71 L248.50,239.80 L250.00,240.86 L251.50,241.90 L253.00,242.92 L254.50,243.91 L256.00,244.87 L257.50,245.82 L259.00,246.73 L260.50,247.63 L262.00,248.50 L263.50,249.35 L265.00,250.18 L266.50,250.98 L268.00,251.76 L269.50,252.52 L271.00,253.27 L272.50,253.98 L274.00,254.68 L275.50,255.36 L277.00,256.02 L278.50,256.67 L280.00,257.29 L281.50,257.89 L283.00,258.48 L284.50,259.05 L286.00,259.60 L287.50,260.14 L289.00,260.66 L290.50,261.16 L292.00,261.65 L293.50,262.12 L295.00,262.58 L296.50,263.02 L298.00,263.46 L299.50,263.87 L301.00,264.28 L302.50,264.67 L304.00,265.05 L305.50,265.41 L307.00,265.77 L308.50,266.11 L310.00,266.44 L311.50,266.76 L313.00,267.08 L314.50,267.38 L316.00,267.67 L317.50,267.95 L319.00,268.22 L320.50,268.48 L322.00,268.74 L323.50,268.99 L325.00,269.22 L326.50,269.45 L328.00,269.67 L329.50,269.89 L331.00,270.10 L332.50,270.30 L334.00,270.49 L335.50,270.68 L337.00,270.86 L338.50,271.03 L340.00,271.20 L341.50,271.37 L343.00,271.52 L344.50,271.68 L346.00,271.82 L347.50,271.96 L349.00,272.10 L350.50,272.23 L352.00,272.36 L353.50,272.48 L355.00,272.60 L356.50,272.72 L358.00,272.83 L359.50,272.94 L361.00,273.04 L362.50,273.14 L364.00,273.24 L365.50,273.33 L366.00,273.36" fill="none" stroke="#f68d12" stroke-width="2.8" stroke-linejoin="round"/>
<circle cx="100.00" cy="96.00" r="6.0" fill="#f98e10" stroke="#f0860c" stroke-width="1.8"/>
<circle cx="98.60" cy="94.80" r="2.6" fill="#fbbf72" opacity="0.75"/>
<circle cx="144.50" cy="128.80" r="6.0" fill="#f98e10" stroke="#f0860c" stroke-width="1.8"/>
<circle cx="143.10" cy="127.60" r="2.6" fill="#fbbf72" opacity="0.75"/>
<circle cx="176.50" cy="163.50" r="6.0" fill="#f98e10" stroke="#f0860c" stroke-width="1.8"/>
<circle cx="175.10" cy="162.30" r="2.6" fill="#fbbf72" opacity="0.75"/>
<circle cx="197.20" cy="188.70" r="6.0" fill="#f98e10" stroke="#f0860c" stroke-width="1.8"/>
<circle cx="195.80" cy="187.50" r="2.6" fill="#fbbf72" opacity="0.75"/>
<circle cx="211.00" cy="206.00" r="6.0" fill="#f98e10" stroke="#f0860c" stroke-width="1.8"/>
<circle cx="209.60" cy="204.80" r="2.6" fill="#fbbf72" opacity="0.75"/>
<circle cx="289.00" cy="261.50" r="6.0" fill="#f98e10" stroke="#f0860c" stroke-width="1.8"/>
<circle cx="287.60" cy="260.30" r="2.6" fill="#fbbf72" opacity="0.75"/>
<circle cx="322.00" cy="265.50" r="6.0" fill="#f98e10" stroke="#f0860c" stroke-width="1.8"/>
<circle cx="320.60" cy="264.30" r="2.6" fill="#fbbf72" opacity="0.75"/>
<circle cx="366.00" cy="276.00" r="6.0" fill="#f98e10" stroke="#f0860c" stroke-width="1.8"/>
<circle cx="364.60" cy="274.80" r="2.6" fill="#fbbf72" opacity="0.75"/>
<line x1="120.00" y1="68.00" x2="120.00" y2="104.00" stroke="#000" stroke-width="2" />
<path d="M116,70 L120,62.5 L124,70 Z" fill="#000"/>
<line x1="73.60" y1="393.50" x2="73.60" y2="650.30" stroke="#000" stroke-width="2.6" />
<line x1="72.40" y1="649.10" x2="87.00" y2="649.10" stroke="#000" stroke-width="2.6" />
<line x1="97.00" y1="649.10" x2="390.00" y2="649.10" stroke="#000" stroke-width="2.6" />
<line x1="86.20" y1="653.50" x2="92.20" y2="642.30" stroke="#000" stroke-width="2.1" />
<line x1="91.60" y1="653.50" x2="97.60" y2="642.30" stroke="#000" stroke-width="2.1" />
<line x1="67.60" y1="622.90" x2="73.60" y2="622.90" stroke="#000" stroke-width="2" />
<text x="64.50" y="627.00" font-size="16.3" text-anchor="end" font-weight="normal" >20</text>
<line x1="67.60" y1="572.30" x2="73.60" y2="572.30" stroke="#000" stroke-width="2" />
<text x="64.50" y="576.40" font-size="16.3" text-anchor="end" font-weight="normal" >40</text>
<line x1="67.60" y1="521.70" x2="73.60" y2="521.70" stroke="#000" stroke-width="2" />
<text x="64.50" y="525.80" font-size="16.3" text-anchor="end" font-weight="normal" >60</text>
<line x1="67.60" y1="471.10" x2="73.60" y2="471.10" stroke="#000" stroke-width="2" />
<text x="64.50" y="475.20" font-size="16.3" text-anchor="end" font-weight="normal" >80</text>
<line x1="67.60" y1="420.50" x2="73.60" y2="420.50" stroke="#000" stroke-width="2" />
<text x="64.50" y="424.60" font-size="16.3" text-anchor="end" font-weight="normal" >100</text>
<line x1="85.00" y1="649.10" x2="85.00" y2="654.60" stroke="#000" stroke-width="2" />
<line x1="80.80" y1="649.10" x2="80.80" y2="652.90" stroke="#000" stroke-width="1.6" />
<text x="81.50" y="668.50" font-size="16" text-anchor="middle" font-weight="normal" >0.0</text>
<line x1="105.26" y1="649.10" x2="105.26" y2="652.90" stroke="#000" stroke-width="1.6" />
<line x1="113.28" y1="649.10" x2="113.28" y2="652.90" stroke="#000" stroke-width="1.6" />
<line x1="119.50" y1="649.10" x2="119.50" y2="655.60" stroke="#000" stroke-width="2" />
<line x1="138.83" y1="649.10" x2="138.83" y2="652.90" stroke="#000" stroke-width="1.6" />
<line x1="158.15" y1="649.10" x2="158.15" y2="652.90" stroke="#000" stroke-width="1.6" />
<line x1="169.46" y1="649.10" x2="169.46" y2="652.90" stroke="#000" stroke-width="1.6" />
<line x1="177.48" y1="649.10" x2="177.48" y2="652.90" stroke="#000" stroke-width="1.6" />
<line x1="183.70" y1="649.10" x2="183.70" y2="655.60" stroke="#000" stroke-width="2" />
<line x1="203.03" y1="649.10" x2="203.03" y2="652.90" stroke="#000" stroke-width="1.6" />
<line x1="222.35" y1="649.10" x2="222.35" y2="652.90" stroke="#000" stroke-width="1.6" />
<line x1="233.66" y1="649.10" x2="233.66" y2="652.90" stroke="#000" stroke-width="1.6" />
<line x1="241.68" y1="649.10" x2="241.68" y2="652.90" stroke="#000" stroke-width="1.6" />
<line x1="247.90" y1="649.10" x2="247.90" y2="655.60" stroke="#000" stroke-width="2" />
<line x1="267.23" y1="649.10" x2="267.23" y2="652.90" stroke="#000" stroke-width="1.6" />
<line x1="286.55" y1="649.10" x2="286.55" y2="652.90" stroke="#000" stroke-width="1.6" />
<line x1="297.86" y1="649.10" x2="297.86" y2="652.90" stroke="#000" stroke-width="1.6" />
<line x1="305.88" y1="649.10" x2="305.88" y2="652.90" stroke="#000" stroke-width="1.6" />
<line x1="312.10" y1="649.10" x2="312.10" y2="655.60" stroke="#000" stroke-width="2" />
<line x1="331.43" y1="649.10" x2="331.43" y2="652.90" stroke="#000" stroke-width="1.6" />
<line x1="350.75" y1="649.10" x2="350.75" y2="652.90" stroke="#000" stroke-width="1.6" />
<line x1="362.06" y1="649.10" x2="362.06" y2="652.90" stroke="#000" stroke-width="1.6" />
<line x1="370.08" y1="649.10" x2="370.08" y2="652.90" stroke="#000" stroke-width="1.6" />
<line x1="376.30" y1="649.10" x2="376.30" y2="655.60" stroke="#000" stroke-width="2" />
<text x="119.50" y="668.50" font-size="16" text-anchor="middle" font-weight="normal" >1</text>
<text x="183.70" y="668.50" font-size="16" text-anchor="middle" font-weight="normal" >10</text>
<text x="247.90" y="668.50" font-size="16" text-anchor="middle" font-weight="normal" >100</text>
<text x="312.10" y="668.50" font-size="16" text-anchor="middle" font-weight="normal" >1000</text>
<text x="376.30" y="668.50" font-size="16" text-anchor="middle" font-weight="normal" >10000</text>
<text x="253.40" y="697.80" font-size="21.2" text-anchor="middle" font-weight="normal" >Doxorubicin (ng/mL)</text>
<text x="0.00" y="0.00" font-size="21.5" text-anchor="middle" font-weight="normal" transform="translate(26.3,512.5) rotate(-90)">% Growth</text>
<text x="3.00" y="384.80" font-size="27" text-anchor="start" font-weight="bold"  style="stroke:none">b</text>
<circle cx="94.30" cy="361.30" r="7.6" fill="#068906"/>
<text x="118.60" y="368.10" font-size="14.8" text-anchor="start" font-weight="normal" >Dox</text>
<circle cx="94.30" cy="383.40" r="7.6" fill="#f80404"/>
<text x="118.60" y="390.20" font-size="14.8" text-anchor="start" font-weight="normal" >Simultaneous treatment</text>
<circle cx="94.30" cy="405.50" r="7.6" fill="#0c0a92"/>
<text x="118.60" y="412.30" font-size="14.8" text-anchor="start" font-weight="normal" >Sequential treatment</text>
<circle cx="81.40" cy="490.80" r="7.2" fill="#0a0af2"/>
<text x="91.20" y="485.50" font-size="14.8" text-anchor="start" font-weight="normal" >DAC (50 ng/mL)</text>
<path d="M120.00,430.98 L121.50,430.98 L123.00,430.98 L124.50,430.98 L126.00,430.98 L127.50,430.98 L129.00,430.98 L130.50,430.98 L132.00,430.98 L133.50,430.98 L135.00,430.98 L136.50,430.98 L138.00,430.98 L139.50,430.98 L141.00,430.98 L142.50,430.98 L144.00,430.98 L145.50,430.98 L147.00,430.98 L148.50,430.98 L150.00,430.98 L151.50,430.98 L153.00,430.98 L154.50,430.98 L156.00,430.98 L157.50,430.98 L159.00,430.98 L160.50,430.98 L162.00,430.98 L163.50,430.98 L165.00,430.98 L166.50,430.98 L168.00,430.98 L169.50,430.98 L171.00,430.98 L172.50,430.98 L174.00,430.98 L175.50,430.98 L177.00,430.98 L178.50,430.98 L180.00,430.98 L181.50,430.98 L183.00,430.98 L184.50,430.99 L186.00,430.99 L187.50,430.99 L189.00,430.99 L190.50,430.99 L192.00,430.99 L193.50,430.99 L195.00,430.99 L196.50,430.99 L198.00,430.99 L199.50,431.00 L201.00,431.00 L202.50,431.00 L204.00,431.00 L205.50,431.00 L207.00,431.00 L208.50,431.01 L210.00,431.01 L211.50,431.01 L213.00,431.02 L214.50,431.02 L216.00,431.02 L217.50,431.03 L219.00,431.03 L220.50,431.04 L222.00,431.04 L223.50,431.05 L225.00,431.05 L226.50,431.06 L228.00,431.07 L229.50,431.08 L231.00,431.09 L232.50,431.10 L234.00,431.11 L235.50,431.12 L237.00,431.13 L238.50,431.15 L240.00,431.16 L241.50,431.18 L243.00,431.20 L244.50,431.22 L246.00,431.24 L247.50,431.27 L249.00,431.29 L250.50,431.32 L252.00,431.36 L253.50,431.39 L255.00,431.43 L256.50,431.47 L258.00,431.52 L259.50,431.57 L261.00,431.62 L262.50,431.68 L264.00,431.75 L265.50,431.82 L267.00,431.90 L268.50,431.98 L270.00,432.08 L271.50,432.18 L273.00,432.29 L274.50,432.41 L276.00,432.54 L277.50,432.69 L279.00,432.85 L280.50,433.02 L282.00,433.21 L283.50,433.42 L285.00,433.64 L286.50,433.89 L288.00,434.15 L289.50,434.45 L291.00,434.77 L292.50,435.11 L294.00,435.49 L295.50,435.91 L297.00,436.36 L298.50,436.85 L300.00,437.38 L301.50,437.97 L303.00,438.60 L304.50,439.29 L306.00,440.04 L307.50,440.85 L309.00,441.74 L310.50,442.70 L312.00,443.74 L313.50,444.87 L315.00,446.09 L316.50,447.42 L318.00,448.85 L319.50,450.40 L321.00,452.07 L322.50,453.87 L324.00,455.81 L325.50,457.90 L327.00,460.14 L328.50,462.54 L330.00,465.12 L331.50,467.87 L333.00,470.81 L334.50,473.94 L336.00,477.26 L337.50,480.79 L339.00,484.52 L340.50,488.46 L342.00,492.61 L343.50,496.97 L345.00,501.53 L346.50,506.29 L348.00,511.24 L349.50,516.38 L351.00,521.69 L352.50,527.16 L354.00,532.78 L355.50,538.52 L357.00,544.38 L358.50,550.32 L360.00,556.32 L361.50,562.37 L363.00,568.44 L364.50,574.50 L366.00,580.54 L367.50,586.52 L369.00,592.42 L370.50,598.23 L372.00,603.92 L373.50,609.48 L375.00,614.88 L375.60,617.00" fill="none" stroke="#068906" stroke-width="2.4" stroke-linejoin="round"/>
<path d="M120.00,504.88 L121.50,504.88 L123.00,504.88 L124.50,504.88 L126.00,504.88 L127.50,504.88 L129.00,504.88 L130.50,504.88 L132.00,504.88 L133.50,504.88 L135.00,504.88 L136.50,504.88 L138.00,504.88 L139.50,504.88 L141.00,504.88 L142.50,504.88 L144.00,504.88 L145.50,504.88 L147.00,504.89 L148.50,504.89 L150.00,504.89 L151.50,504.89 L153.00,504.89 L154.50,504.89 L156.00,504.89 L157.50,504.89 L159.00,504.89 L160.50,504.90 L162.00,504.90 L163.50,504.90 L165.00,504.90 L166.50,504.90 L168.00,504.90 L169.50,504.91 L171.00,504.91 L172.50,504.91 L174.00,504.91 L175.50,504.92 L177.00,504.92 L178.50,504.92 L180.00,504.93 L181.50,504.93 L183.00,504.93 L184.50,504.94 L186.00,504.94 L187.50,504.95 L189.00,504.95 L190.50,504.96 L192.00,504.97 L193.50,504.97 L195.00,504.98 L196.50,504.99 L198.00,505.00 L199.50,505.00 L201.00,505.01 L202.50,505.02 L204.00,505.04 L205.50,505.05 L207.00,505.06 L208.50,505.07 L210.00,505.09 L211.50,505.11 L213.00,505.12 L214.50,505.14 L216.00,505.16 L217.50,505.18 L219.00,505.20 L220.50,505.23 L222.00,505.25 L223.50,505.28 L225.00,505.31 L226.50,505.35 L228.00,505.38 L229.50,505.42 L231.00,505.46 L232.50,505.50 L234.00,505.55 L235.50,505.60 L237.00,505.65 L238.50,505.71 L240.00,505.77 L241.50,505.84 L243.00,505.91 L244.50,505.98 L246.00,506.06 L247.50,506.15 L249.00,506.25 L250.50,506.35 L252.00,506.46 L253.50,506.57 L255.00,506.70 L256.50,506.83 L258.00,506.97 L259.50,507.13 L261.00,507.29 L262.50,507.47 L264.00,507.66 L265.50,507.86 L267.00,508.08 L268.50,508.31 L270.00,508.56 L271.50,508.82 L273.00,509.11 L274.50,509.41 L276.00,509.74 L277.50,510.09 L279.00,510.46 L280.50,510.86 L282.00,511.29 L283.50,511.74 L285.00,512.23 L286.50,512.75 L288.00,513.30 L289.50,513.89 L291.00,514.52 L292.50,515.19 L294.00,515.90 L295.50,516.66 L297.00,517.47 L298.50,518.32 L300.00,519.23 L301.50,520.19 L303.00,521.21 L304.50,522.29 L306.00,523.43 L307.50,524.63 L309.00,525.91 L310.50,527.25 L312.00,528.66 L313.50,530.14 L315.00,531.70 L316.50,533.33 L318.00,535.04 L319.50,536.82 L321.00,538.69 L322.50,540.63 L324.00,542.65 L325.50,544.74 L327.00,546.92 L328.50,549.16 L330.00,551.48 L331.50,553.87 L333.00,556.32 L334.50,558.83 L336.00,561.40 L337.50,564.03 L339.00,566.70 L340.50,569.41 L342.00,572.16 L343.50,574.94 L345.00,577.74 L346.50,580.56 L348.00,583.38 L349.50,586.21 L351.00,589.03 L352.50,591.84 L354.00,594.62 L355.50,597.38 L357.00,600.11 L358.50,602.79 L360.00,605.43 L361.50,608.02 L363.00,610.55 L364.50,613.02 L366.00,615.43 L367.50,617.77 L369.00,620.04 L370.50,622.23 L372.00,624.35 L373.50,626.39 L375.00,628.36 L375.60,629.12" fill="none" stroke="#f80404" stroke-width="2.4" stroke-linejoin="round"/>
<path d="M120.00,552.53 L121.50,552.54 L123.00,552.54 L124.50,552.54 L126.00,552.55 L127.50,552.55 L129.00,552.56 L130.50,552.56 L132.00,552.56 L133.50,552.57 L135.00,552.57 L136.50,552.58 L138.00,552.59 L139.50,552.59 L141.00,552.60 L142.50,552.60 L144.00,552.61 L145.50,552.62 L147.00,552.63 L148.50,552.63 L150.00,552.64 L151.50,552.65 L153.00,552.66 L154.50,552.67 L156.00,552.68 L157.50,552.69 L159.00,552.70 L160.50,552.71 L162.00,552.72 L163.50,552.74 L165.00,552.75 L166.50,552.76 L168.00,552.78 L169.50,552.79 L171.00,552.81 L172.50,552.82 L174.00,552.84 L175.50,552.86 L177.00,552.88 L178.50,552.90 L180.00,552.92 L181.50,552.94 L183.00,552.96 L184.50,552.98 L186.00,553.01 L187.50,553.04 L189.00,553.06 L190.50,553.09 L192.00,553.12 L193.50,553.15 L195.00,553.18 L196.50,553.22 L198.00,553.25 L199.50,553.29 L201.00,553.33 L202.50,553.37 L204.00,553.41 L205.50,553.46 L207.00,553.51 L208.50,553.56 L210.00,553.61 L211.50,553.66 L213.00,553.72 L214.50,553.78 L216.00,553.84 L217.50,553.90 L219.00,553.97 L220.50,554.04 L222.00,554.11 L223.50,554.19 L225.00,554.27 L226.50,554.35 L228.00,554.44 L229.50,554.53 L231.00,554.63 L232.50,554.73 L234.00,554.83 L235.50,554.94 L237.00,555.06 L238.50,555.18 L240.00,555.30 L241.50,555.43 L243.00,555.57 L244.50,555.71 L246.00,555.86 L247.50,556.01 L249.00,556.17 L250.50,556.34 L252.00,556.51 L253.50,556.69 L255.00,556.88 L256.50,557.08 L258.00,557.28 L259.50,557.50 L261.00,557.72 L262.50,557.95 L264.00,558.19 L265.50,558.44 L267.00,558.70 L268.50,558.97 L270.00,559.25 L271.50,559.54 L273.00,559.84 L274.50,560.16 L276.00,560.48 L277.50,560.82 L279.00,561.17 L280.50,561.53 L282.00,561.90 L283.50,562.29 L285.00,562.68 L286.50,563.10 L288.00,563.52 L289.50,563.96 L291.00,564.42 L292.50,564.88 L294.00,565.36 L295.50,565.86 L297.00,566.37 L298.50,566.89 L300.00,567.43 L301.50,567.98 L303.00,568.55 L304.50,569.13 L306.00,569.73 L307.50,570.33 L309.00,570.96 L310.50,571.59 L312.00,572.24 L313.50,572.90 L315.00,573.58 L316.50,574.26 L318.00,574.96 L319.50,575.67 L321.00,576.39 L322.50,577.12 L324.00,577.86 L325.50,578.61 L327.00,579.36 L328.50,580.13 L330.00,580.90 L331.50,581.67 L333.00,582.45 L334.50,583.24 L336.00,584.03 L337.50,584.82 L339.00,585.61 L340.50,586.41 L342.00,587.20 L343.50,588.00 L345.00,588.79 L346.50,589.58 L348.00,590.37 L349.50,591.15 L351.00,591.93 L352.50,592.70 L354.00,593.47 L355.50,594.22 L357.00,594.97 L358.50,595.72 L360.00,596.45 L361.50,597.17 L363.00,597.88 L364.50,598.58 L366.00,599.27 L367.50,599.95 L369.00,600.61 L370.50,601.27 L372.00,601.91 L373.50,602.53 L375.00,603.14 L375.60,603.38" fill="none" stroke="#0c0a92" stroke-width="2.4" stroke-linejoin="round"/>
<line x1="120.00" y1="414.70" x2="120.00" y2="431.30" stroke="#068906" stroke-width="1.6" />
<line x1="114.50" y1="414.70" x2="125.50" y2="414.70" stroke="#068906" stroke-width="1.6" />
<line x1="114.50" y1="431.30" x2="125.50" y2="431.30" stroke="#068906" stroke-width="1.6" />
<line x1="184.00" y1="500.10" x2="184.00" y2="511.10" stroke="#f80404" stroke-width="1.6" />
<line x1="178.50" y1="500.10" x2="189.50" y2="500.10" stroke="#f80404" stroke-width="1.6" />
<line x1="178.50" y1="511.10" x2="189.50" y2="511.10" stroke="#f80404" stroke-width="1.6" />
<line x1="292.60" y1="509.10" x2="292.60" y2="520.10" stroke="#f80404" stroke-width="1.6" />
<line x1="287.10" y1="509.10" x2="298.10" y2="509.10" stroke="#f80404" stroke-width="1.6" />
<line x1="287.10" y1="520.10" x2="298.10" y2="520.10" stroke="#f80404" stroke-width="1.6" />
<line x1="292.60" y1="558.20" x2="292.60" y2="572.20" stroke="#0c0a92" stroke-width="1.6" />
<line x1="287.10" y1="558.20" x2="298.10" y2="558.20" stroke="#0c0a92" stroke-width="1.6" />
<line x1="287.10" y1="572.20" x2="298.10" y2="572.20" stroke="#0c0a92" stroke-width="1.6" />
<circle cx="120.00" cy="423.00" r="7.3" fill="#068906"/>
<circle cx="184.00" cy="438.60" r="7.3" fill="#068906"/>
<circle cx="292.60" cy="438.50" r="7.3" fill="#068906"/>
<circle cx="311.80" cy="442.40" r="7.3" fill="#068906"/>
<circle cx="375.60" cy="613.10" r="7.3" fill="#068906"/>
<circle cx="120.00" cy="502.60" r="7.3" fill="#f80404"/>
<circle cx="184.00" cy="505.60" r="7.3" fill="#f80404"/>
<circle cx="292.60" cy="514.60" r="7.3" fill="#f80404"/>
<circle cx="311.80" cy="527.40" r="7.3" fill="#f80404"/>
<circle cx="375.60" cy="629.40" r="7.3" fill="#f80404"/>
<circle cx="120.00" cy="552.50" r="7.3" fill="#0c0a92"/>
<circle cx="184.00" cy="553.40" r="7.3" fill="#0c0a92"/>
<circle cx="292.60" cy="565.20" r="7.3" fill="#0c0a92"/>
<circle cx="311.80" cy="570.90" r="7.3" fill="#0c0a92"/>
<circle cx="375.60" cy="603.40" r="7.3" fill="#0c0a92"/>
<line x1="75.00" y1="732.58" x2="75.00" y2="988.20" stroke="#000" stroke-width="2.6" />
<line x1="73.80" y1="987.00" x2="388.00" y2="987.00" stroke="#000" stroke-width="2.6" />
<line x1="69.00" y1="733.78" x2="75.00" y2="733.78" stroke="#000" stroke-width="2" />
<text x="65.60" y="738.28" font-size="16.3" text-anchor="end" font-weight="normal" >1.5</text>
<line x1="69.00" y1="834.70" x2="75.00" y2="834.70" stroke="#000" stroke-width="2" />
<text x="65.60" y="839.20" font-size="16.3" text-anchor="end" font-weight="normal" >1.0</text>
<line x1="69.00" y1="935.62" x2="75.00" y2="935.62" stroke="#000" stroke-width="2" />
<text x="65.60" y="940.12" font-size="16.3" text-anchor="end" font-weight="normal" >0.5</text>
<line x1="81.94" y1="987.00" x2="81.94" y2="990.80" stroke="#000" stroke-width="1.6" />
<line x1="92.79" y1="987.00" x2="92.79" y2="990.80" stroke="#000" stroke-width="1.6" />
<line x1="101.20" y1="987.00" x2="101.20" y2="993.50" stroke="#000" stroke-width="2" />
<line x1="127.33" y1="987.00" x2="127.33" y2="990.80" stroke="#000" stroke-width="1.6" />
<line x1="153.46" y1="987.00" x2="153.46" y2="990.80" stroke="#000" stroke-width="1.6" />
<line x1="168.74" y1="987.00" x2="168.74" y2="990.80" stroke="#000" stroke-width="1.6" />
<line x1="179.59" y1="987.00" x2="179.59" y2="990.80" stroke="#000" stroke-width="1.6" />
<line x1="188.00" y1="987.00" x2="188.00" y2="993.50" stroke="#000" stroke-width="2" />
<line x1="214.13" y1="987.00" x2="214.13" y2="990.80" stroke="#000" stroke-width="1.6" />
<line x1="240.26" y1="987.00" x2="240.26" y2="990.80" stroke="#000" stroke-width="1.6" />
<line x1="255.54" y1="987.00" x2="255.54" y2="990.80" stroke="#000" stroke-width="1.6" />
<line x1="266.39" y1="987.00" x2="266.39" y2="990.80" stroke="#000" stroke-width="1.6" />
<line x1="274.80" y1="987.00" x2="274.80" y2="993.50" stroke="#000" stroke-width="2" />
<line x1="300.93" y1="987.00" x2="300.93" y2="990.80" stroke="#000" stroke-width="1.6" />
<line x1="327.06" y1="987.00" x2="327.06" y2="990.80" stroke="#000" stroke-width="1.6" />
<line x1="342.34" y1="987.00" x2="342.34" y2="990.80" stroke="#000" stroke-width="1.6" />
<line x1="353.19" y1="987.00" x2="353.19" y2="990.80" stroke="#000" stroke-width="1.6" />
<line x1="361.60" y1="987.00" x2="361.60" y2="993.50" stroke="#000" stroke-width="2" />
<text x="101.50" y="1007.60" font-size="15.4" text-anchor="middle" font-weight="normal" >1</text>
<text x="188.30" y="1007.60" font-size="15.4" text-anchor="middle" font-weight="normal" >10</text>
<text x="275.10" y="1007.60" font-size="15.4" text-anchor="middle" font-weight="normal" >100</text>
<text x="361.90" y="1007.60" font-size="15.4" text-anchor="middle" font-weight="normal" >1000</text>
<text x="251.50" y="1039.50" font-size="21.2" text-anchor="middle" font-weight="normal" >Doxorubicin (ng/mL)</text>
<text x="0.00" y="0.00" font-size="21.35" text-anchor="middle" font-weight="normal" transform="translate(28.2,851.2) rotate(-90)">Combination Index (CI) values</text>
<text x="3.00" y="696.00" font-size="27" text-anchor="start" font-weight="bold"  style="stroke:none">c</text>
<circle cx="98.40" cy="736.30" r="7.3" fill="#f80404"/>
<circle cx="98.40" cy="758.50" r="7.3" fill="#0c0a92"/>
<text x="123.20" y="742.50" font-size="14.8" text-anchor="start" font-weight="normal" >Simultaneous treatment</text>
<text x="123.20" y="764.00" font-size="14.8" text-anchor="start" font-weight="normal" >Sequential treatment</text>
<line x1="76.00" y1="834.60" x2="388.00" y2="834.60" stroke="#d8302c" stroke-width="1.4" />
<line x1="74.8" y1="906.3" x2="388" y2="906.3" stroke="#222" stroke-width="1.5" stroke-dasharray="6,6.16"/>
<line x1="74.8" y1="973" x2="388" y2="973" stroke="#222" stroke-width="1.5" stroke-dasharray="6,6.16"/>
<text x="389.30" y="796.30" font-size="14.9" text-anchor="end" font-weight="normal" >Antagonism</text>
<text x="389.30" y="832.60" font-size="14.9" text-anchor="end" font-weight="normal" >Additive</text>
<text x="389.30" y="897.90" font-size="14.8" text-anchor="end" font-weight="normal" >Moderate Synergism</text>
<text x="389.30" y="936.20" font-size="14.8" text-anchor="end" font-weight="normal" >Synergism</text>
<circle cx="101.00" cy="832.00" r="7.3" fill="#f80404"/>
<circle cx="188.30" cy="842.80" r="7.3" fill="#f80404"/>
<circle cx="336.50" cy="847.00" r="7.3" fill="#f80404"/>
<circle cx="362.60" cy="871.00" r="7.3" fill="#f80404"/>
<circle cx="101.00" cy="942.60" r="7.3" fill="#0c0a92"/>
<circle cx="188.40" cy="942.60" r="7.3" fill="#0c0a92"/>
<circle cx="336.00" cy="954.00" r="7.3" fill="#0c0a92"/>
<circle cx="362.50" cy="958.50" r="7.3" fill="#0c0a92"/>
</svg>
</body></html>
